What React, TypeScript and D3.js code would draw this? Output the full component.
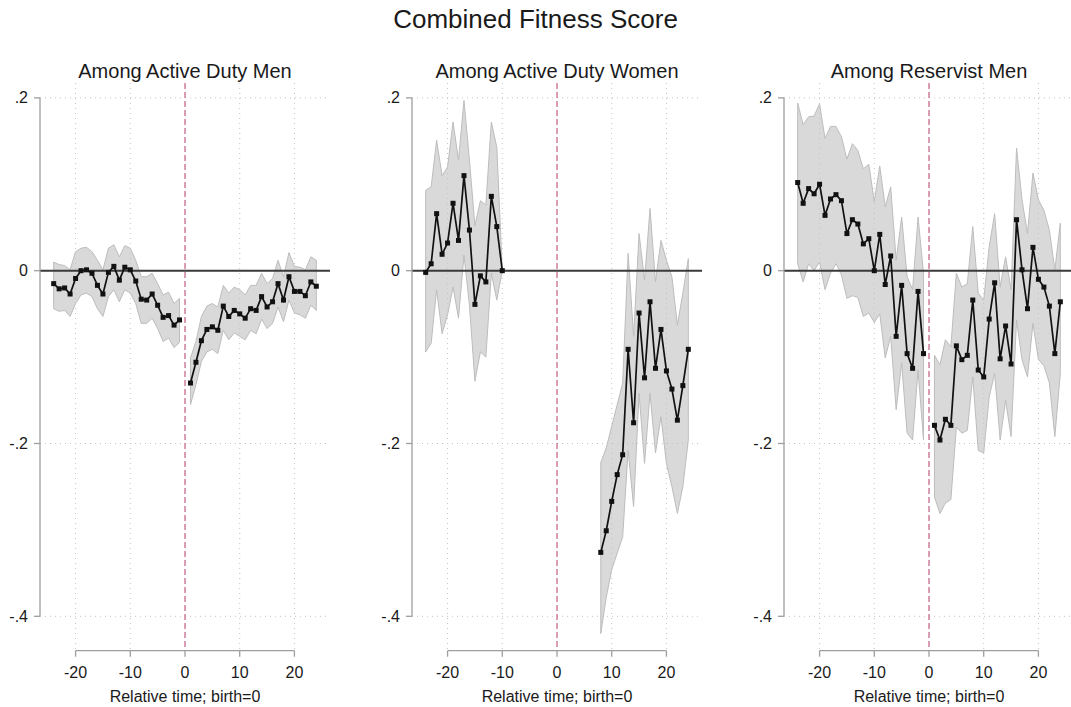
import React from "react";
import * as d3 from "d3";

// titles and axes
const chartTitle = "Combined Fitness Score";
const panelTitles = ["Among Active Duty Men", "Among Active Duty Women", "Among Reservist Men"];
const yTicks = [0.2, 0, -0.2, -0.4];
const yTickLabels = [".2", "0", "-.2", "-.4"];
const xTicks = [-20, -10, 0, 10, 20];
const xLabel = "Relative time; birth=0";

// relative time
const timePre = [-24, -23, -22, -21, -20, -19, -18, -17, -16, -15, -14, -13, -12, -11, -10, -9, -8, -7, -6, -5, -4, -3, -2, -1];
const timePost = [1, 2, 3, 4, 5, 6, 7, 8, 9, 10, 11, 12, 13, 14, 15, 16, 17, 18, 19, 20, 21, 22, 23, 24];
const womenTimePre = [-24, -23, -22, -21, -20, -19, -18, -17, -16, -15, -14, -13, -12, -11, -10];
const womenTimePost = [8, 9, 10, 11, 12, 13, 14, 15, 16, 17, 18, 19, 20, 21, 22, 23, 24];

// active duty men
const menPreVal = [-0.015, -0.021, -0.02, -0.027, -0.009, 0.0, 0.001, -0.003, -0.017, -0.027, -0.002, 0.005, -0.011, 0.004, 0.001, -0.012, -0.033, -0.034, -0.027, -0.04, -0.054, -0.052, -0.063, -0.057];
const menPreHi = [0.01, 0.007, 0.006, 0.001, 0.022, 0.026, 0.027, 0.022, 0.012, 0.001, 0.026, 0.03, 0.016, 0.029, 0.026, 0.012, -0.007, -0.007, -0.003, -0.015, -0.028, -0.025, -0.038, -0.032];
const menPreLo = [-0.044, -0.047, -0.046, -0.053, -0.038, -0.028, -0.026, -0.03, -0.044, -0.053, -0.03, -0.022, -0.036, -0.022, -0.026, -0.038, -0.061, -0.061, -0.055, -0.067, -0.082, -0.078, -0.089, -0.083];
const menPostVal = [-0.13, -0.106, -0.081, -0.068, -0.065, -0.069, -0.041, -0.053, -0.046, -0.05, -0.055, -0.044, -0.046, -0.03, -0.042, -0.036, -0.015, -0.034, -0.007, -0.024, -0.024, -0.029, -0.013, -0.018];
const menPostHi = [-0.101, -0.082, -0.053, -0.041, -0.038, -0.042, -0.017, -0.026, -0.019, -0.022, -0.028, -0.017, -0.017, -0.003, -0.015, -0.009, 0.012, -0.007, 0.021, 0.005, 0.004, 0.001, 0.016, 0.012];
const menPostLo = [-0.155, -0.132, -0.105, -0.094, -0.091, -0.096, -0.069, -0.08, -0.072, -0.076, -0.08, -0.069, -0.073, -0.056, -0.067, -0.061, -0.042, -0.059, -0.034, -0.049, -0.051, -0.055, -0.04, -0.046];

// active duty women
const womenPreVal = [-0.002, 0.008, 0.066, 0.019, 0.032, 0.078, 0.035, 0.11, 0.047, -0.039, -0.006, -0.013, 0.086, 0.051, 0.0];
const womenPreHi = [0.093, 0.097, 0.151, 0.11, 0.12, 0.172, 0.128, 0.197, 0.128, 0.052, 0.081, 0.076, 0.172, 0.143, 0.0];
const womenPreLo = [-0.094, -0.084, -0.022, -0.073, -0.051, -0.019, -0.055, 0.018, -0.04, -0.128, -0.094, -0.1, -0.003, -0.034, 0.0];
const womenPostVal = [-0.326, -0.301, -0.267, -0.236, -0.213, -0.091, -0.176, -0.049, -0.124, -0.036, -0.113, -0.068, -0.116, -0.137, -0.173, -0.133, -0.091];
const womenPostHi = [-0.222, -0.205, -0.18, -0.155, -0.13, 0.02, -0.076, 0.043, -0.011, 0.072, -0.013, 0.035, 0.012, -0.007, -0.063, -0.026, 0.014];
const womenPostLo = [-0.42, -0.378, -0.346, -0.327, -0.308, -0.208, -0.273, -0.142, -0.223, -0.142, -0.211, -0.169, -0.223, -0.25, -0.281, -0.25, -0.196];

// reservist men
const resPreVal = [0.102, 0.078, 0.095, 0.089, 0.1, 0.064, 0.083, 0.088, 0.081, 0.043, 0.059, 0.054, 0.031, 0.037, 0.0, 0.042, -0.016, 0.017, -0.076, -0.017, -0.096, -0.113, -0.024, -0.096];
const resPreHi = [0.194, 0.169, 0.178, 0.179, 0.193, 0.153, 0.167, 0.167, 0.155, 0.129, 0.147, 0.139, 0.118, 0.123, 0.08, 0.121, 0.074, 0.097, 0.012, 0.062, -0.007, -0.022, 0.062, -0.003];
const resPreLo = [0.008, -0.013, 0.008, 0.0, 0.01, -0.022, -0.003, 0.008, -0.005, -0.032, -0.029, -0.031, -0.053, -0.049, -0.06, -0.05, -0.101, -0.076, -0.161, -0.107, -0.188, -0.196, -0.115, -0.196];
const resPostVal = [-0.179, -0.196, -0.172, -0.179, -0.087, -0.103, -0.098, -0.034, -0.115, -0.123, -0.056, -0.014, -0.102, -0.064, -0.108, 0.059, 0.001, -0.044, 0.027, -0.01, -0.019, -0.041, -0.096, -0.036];
const resPostHi = [-0.098, -0.109, -0.08, -0.088, -0.003, -0.019, -0.015, 0.051, -0.026, -0.034, 0.028, 0.066, -0.019, 0.016, -0.022, 0.142, 0.082, 0.043, 0.113, 0.082, 0.07, 0.047, 0.001, 0.055];
const resPostLo = [-0.262, -0.281, -0.269, -0.265, -0.181, -0.188, -0.185, -0.123, -0.208, -0.211, -0.146, -0.119, -0.196, -0.15, -0.192, -0.057, -0.103, -0.123, -0.061, -0.103, -0.11, -0.13, -0.192, -0.119];

type Pt = { t: number; v: number; hi: number; lo: number };

const seg = (t: number[], v: number[], hi: number[], lo: number[]): Pt[] =>
  t.map((d, i) => ({ t: d, v: v[i], hi: hi[i], lo: lo[i] }));

const panels = [
  [seg(timePre, menPreVal, menPreHi, menPreLo), seg(timePost, menPostVal, menPostHi, menPostLo)],
  [seg(womenTimePre, womenPreVal, womenPreHi, womenPreLo), seg(womenTimePost, womenPostVal, womenPostHi, womenPostLo)],
  [seg(timePre, resPreVal, resPreHi, resPreLo), seg(timePost, resPostVal, resPostHi, resPostLo)],
];

const width = 1071;
const height = 707;
const panelLefts = [40, 412, 784];
const plotW = 290;
const top = 83;
const bottom = 650.7;
const font = "'Liberation Sans', Arial, Helvetica, sans-serif";
const textColor = "#1a1a1a";
const axisColor = "#9e9e9e";
const gridColor = "#c4c4c4";

function Panel({ left, title, segments }: { left: number; title: string; segments: Pt[][] }) {
  const x = d3.scaleLinear().domain([-26.5, 26.5]).range([left, left + plotW]);
  const y = d3.scaleLinear().domain([-0.4398, 0.2172]).range([bottom, top]);

  const area = d3.area<Pt>().x(d => x(d.t)).y0(d => y(d.lo)).y1(d => y(d.hi));
  const line = d3.line<Pt>().x(d => x(d.t)).y(d => y(d.v));

  return (
    <g>
      <text x={x(0)} y={78} textAnchor="middle" fontSize={20} fill={textColor}>{title}</text>

      {segments.map((s, i) => (
        <path key={"a" + i} d={area(s) || ""} fill="#d9d9d9" stroke="#bdbdbd" strokeWidth={1} />
      ))}

      {/* grid */}
      {yTicks.filter(t => t !== 0).map(t => (
        <line key={"gy" + t} x1={left} x2={left + plotW} y1={y(t)} y2={y(t)}
          stroke={gridColor} strokeWidth={1} strokeDasharray="1 4" />
      ))}
      {xTicks.filter(t => t !== 0).map(t => (
        <line key={"gx" + t} x1={x(t)} x2={x(t)} y1={top} y2={bottom}
          stroke={gridColor} strokeWidth={1} strokeDasharray="1 4" />
      ))}

      <line x1={left} x2={left + plotW} y1={y(0)} y2={y(0)} stroke="#3a3a3a" strokeWidth={2} />
      <line x1={x(0)} x2={x(0)} y1={top} y2={bottom} stroke="#c8698f" strokeWidth={1.3} strokeDasharray="6 3" />

      {/* y axis */}
      <line x1={left} x2={left} y1={y(0.2)} y2={y(-0.4)} stroke={axisColor} strokeWidth={1.3} />
      {yTicks.map((t, i) => (
        <g key={"yt" + t}>
          <line x1={left - 6} x2={left} y1={y(t)} y2={y(t)} stroke={axisColor} strokeWidth={1.3} />
          <text x={left - 12} y={y(t)} dy="0.35em" textAnchor="end" fontSize={16} fill={textColor}>{yTickLabels[i]}</text>
        </g>
      ))}

      {/* x axis */}
      <line x1={x(-20)} x2={x(20)} y1={bottom} y2={bottom} stroke={axisColor} strokeWidth={1.3} />
      {xTicks.map(t => (
        <g key={"xt" + t}>
          <line x1={x(t)} x2={x(t)} y1={bottom} y2={bottom + 6} stroke={axisColor} strokeWidth={1.3} />
          <text x={x(t)} y={678} textAnchor="middle" fontSize={16} fill={textColor}>{t}</text>
        </g>
      ))}
      <text x={x(0)} y={701.5} textAnchor="middle" fontSize={16} fill={textColor}>{xLabel}</text>

      {/* estimates */}
      {segments.map((s, i) => (
        <g key={"l" + i}>
          <path d={line(s) || ""} fill="none" stroke="#111" strokeWidth={1.7} />
          {s.map(d => (
            <rect key={d.t} x={x(d.t) - 2.5} y={y(d.v) - 2.5} width={5} height={5} fill="#111" />
          ))}
        </g>
      ))}
    </g>
  );
}

export default function App() {
  return (
    <svg width={width} height={height} fontFamily={font}
      style={{ position: "absolute", left: 0, top: 0, background: "#fff" }}>
      <rect width={width} height={height} fill="#fff" />
      <text x={535.5} y={27.5} textAnchor="middle" fontSize={26} fill={textColor}>{chartTitle}</text>
      {panels.map((segments, i) => (
        <Panel key={i} left={panelLefts[i]} title={panelTitles[i]} segments={segments} />
      ))}
    </svg>
  );
}
